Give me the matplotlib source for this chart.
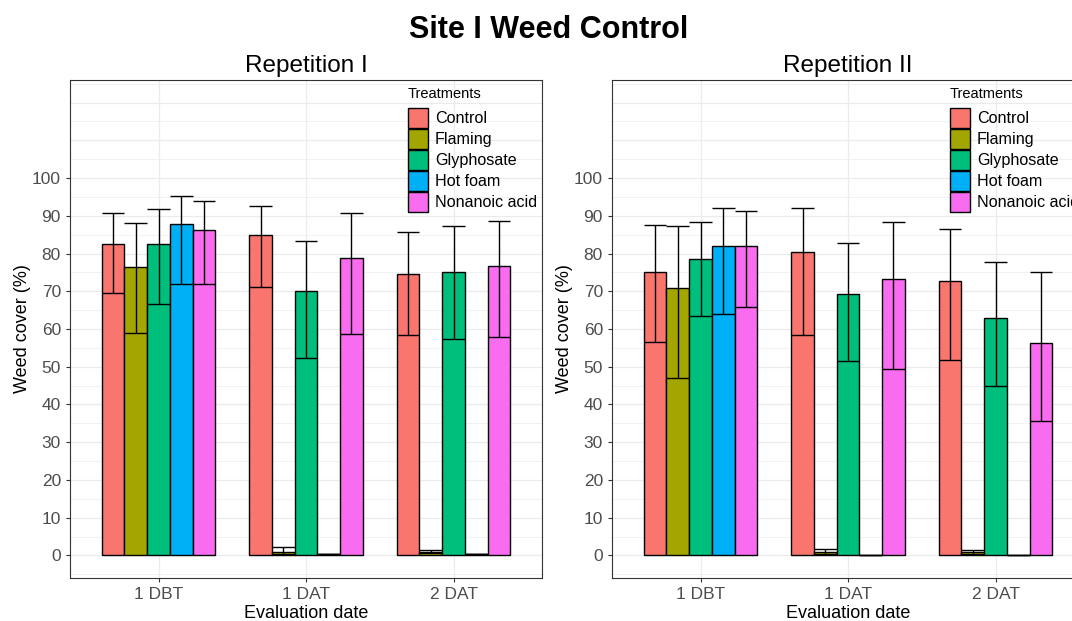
import numpy as np
import matplotlib
matplotlib.use("Agg")
import matplotlib.pyplot as plt
from matplotlib.patches import Patch

dates = ["1 DBT", "1 DAT", "2 DAT"]
treatments = ["Control", "Flaming", "Glyphosate", "Hot foam", "Nonanoic acid"]
colors = ["#F8766D", "#A3A500", "#00BF7D", "#00B0F6", "#F96CF0"]

# Repetition I: rows = treatments, cols = dates
rep1_mean = [[82.5, 85.0, 74.5],
             [76.5, 0.8, 1.0],
             [82.5, 70.0, 75.2],
             [87.8, 0.4, 0.3],
             [86.3, 78.8, 76.7]]
rep1_low = [[69.5, 71.2, 58.5],
            [59.0, 0.3, 0.6],
            [66.5, 52.3, 57.3],
            [71.8, 0.4, 0.3],
            [72.0, 58.7, 57.9]]
rep1_high = [[90.7, 92.7, 85.8],
             [88.0, 2.1, 1.3],
             [91.8, 83.2, 87.3],
             [95.3, 0.4, 0.3],
             [94.0, 90.8, 88.6]]

# Repetition II
rep2_mean = [[75.2, 80.3, 72.6],
             [71.0, 0.8, 0.8],
             [78.5, 69.4, 62.8],
             [82.0, 0.1, 0.1],
             [82.0, 73.2, 56.4]]
rep2_low = [[56.6, 58.4, 51.9],
            [47.0, 0.3, 0.3],
            [63.5, 51.5, 44.9],
            [64.0, 0.1, 0.1],
            [65.9, 49.3, 35.6]]
rep2_high = [[87.6, 92.2, 86.5],
             [87.2, 1.6, 1.3],
             [88.3, 82.9, 77.8],
             [92.0, 0.1, 0.1],
             [91.2, 88.4, 75.1]]

plt.rcParams["font.family"] = ["Liberation Sans", "DejaVu Sans"]

fig = plt.figure(figsize=(10.72, 6.21), dpi=100)
fig.text(0.512, 0.952, "Site I Weed Control", ha="center", va="center",
         fontsize=22, fontweight="bold")

group_w = 0.77
bar_w = group_w / len(treatments)


def panel(ax, title, mean, low, high):
    ax.set_facecolor("white")
    ax.set_xlim(0.4, 3.6)
    ax.set_ylim(-6, 126)
    # grid like theme_bw
    for v in np.arange(-5, 126, 5):
        lw = 0.9 if v % 10 == 0 else 0.5
        ax.axhline(v, color="#EBEBEB", lw=lw, zorder=0)
    for xi in range(1, 4):
        ax.axvline(xi, color="#EBEBEB", lw=0.9, zorder=0)
    x = np.arange(1, 4)
    for i, t in enumerate(treatments):
        xs = x - group_w / 2 + bar_w * (i + 0.5)
        ax.bar(xs, mean[i], width=bar_w, color=colors[i], edgecolor="black",
               linewidth=1.0, zorder=2)
        ax.vlines(xs, low[i], high[i], color="black", lw=1.0, zorder=3)
        ax.hlines(high[i], xs - bar_w / 2, xs + bar_w / 2, color="black", lw=1.0, zorder=3)
        ax.hlines(low[i], xs - bar_w / 2, xs + bar_w / 2, color="black", lw=1.0, zorder=3)
    ax.set_xticks(x)
    ax.set_xticklabels(dates)
    ax.set_yticks(np.arange(0, 101, 10))
    ax.tick_params(labelsize=12.5, colors="#4D4D4D", length=3, width=0.8)
    ax.tick_params(axis="both", color="#333333")
    for s in ax.spines.values():
        s.set_color("#333333")
        s.set_linewidth(0.8)
    ax.set_xlabel("Evaluation date", fontsize=13, labelpad=2)
    ax.set_ylabel("Weed cover (%)", fontsize=13, labelpad=1)
    ax.set_title(title, fontsize=17.5, pad=6)
    handles = [Patch(facecolor=c, edgecolor="black", linewidth=1.0) for c in colors]
    leg = ax.legend(handles, treatments, title="Treatments", loc="upper left",
                    bbox_to_anchor=(0.695, 1.005), frameon=False, fontsize=11.6,
                    title_fontsize=10.5, handlelength=1.24, handleheight=1.55,
                    labelspacing=0.05, handletextpad=0.45, borderaxespad=0.2)
    leg._legend_box.align = "left"
    leg._legend_box.sep = 5


ax1 = fig.add_axes([0.0653, 0.0692, 0.4403, 0.802])
panel(ax1, "Repetition I", rep1_mean, rep1_low, rep1_high)
ax2 = fig.add_axes([0.5709, 0.0692, 0.4403, 0.802])
panel(ax2, "Repetition II", rep2_mean, rep2_low, rep2_high)

fig.savefig("out.png", dpi=100, facecolor="white")
